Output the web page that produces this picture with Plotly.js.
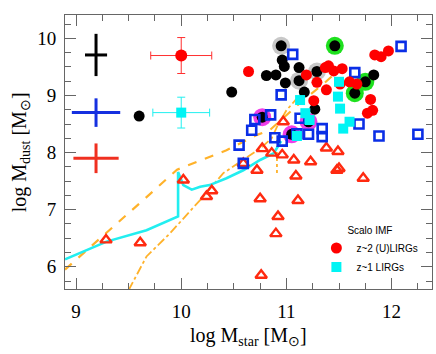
<!DOCTYPE html>
<html>
<head>
<meta charset="utf-8">
<script src="https://cdn.plot.ly/plotly-3.0.1.min.js"></script>
<style>
  html, body { margin: 0; padding: 0; background: #fff; }
  #chart { width: 436px; height: 354px; }
</style>
</head>
<body>
<div id="chart"></div>
<script>
// model tracks (log Mstar, log Mdust)
var cyanLineX = [8.895, 9.29, 9.67, 9.97, 9.97, 10.02, 10.10, 10.18, 10.27, 10.43, 10.59, 10.75, 10.88, 10.95];
var cyanLineY = [6.13, 6.44, 6.64, 6.88, 7.66, 7.43, 7.35, 7.40, 7.43, 7.55, 7.69, 7.87, 7.99, 8.20];
var dashX = [8.895, 9.32, 9.64, 9.96, 10.43, 10.72, 10.84, 11.13, 11.35, 11.50];
var dashY = [5.95, 6.64, 7.17, 7.70, 8.04, 8.31, 8.39, 8.87, 9.20, 9.45];
var dotdashX = [9.50, 9.67, 9.89, 10.21, 10.40, 10.59, 10.75, 10.86, 10.91, 11.00, 11.10];
var dotdashY = [5.59, 6.18, 6.58, 7.23, 7.64, 7.87, 8.07, 8.25, 8.45, 8.74, 8.95];
var dropX = [10.91, 10.91];
var dropY = [8.22, 7.62];

// open red triangles
var triX = [9.285, 9.61, 10.02, 10.24, 10.29, 10.59, 10.72, 10.75, 10.76, 10.77, 10.86, 10.90, 10.92, 10.96, 10.97, 11.07, 11.09, 11.11, 11.23, 11.38, 11.49, 11.48, 11.50, 11.73];
var triY = [6.47, 6.42, 7.52, 7.23, 7.33, 7.81, 7.69, 7.19, 5.85, 8.07, 7.99, 6.58, 6.88, 7.96, 8.54, 7.87, 7.59, 7.16, 7.84, 8.08, 8.02, 7.69, 7.72, 7.55];

// open blue squares
var sqX = [10.55, 10.59, 10.67, 10.70, 10.85, 10.89, 10.96, 10.95, 11.06, 11.10, 11.13, 11.21, 11.34, 11.34, 11.65, 11.69, 11.88, 12.09, 12.25];
var sqY = [8.13, 7.81, 8.39, 8.58, 8.66, 8.26, 8.20, 9.01, 9.72, 8.33, 8.60, 8.32, 8.42, 8.28, 9.40, 8.50, 8.29, 9.86, 8.32];

// halos
var greyX = [10.95, 11.12, 11.29];
var greyY = [9.87, 9.26, 9.42];
var greenX = [11.46, 11.65, 11.75];
var greenY = [9.87, 9.04, 9.24];
var magX = [10.77, 11.21, 11.05];
var magY = [8.62, 8.54, 8.32];

// black dots
var blackX = [9.60, 10.48, 10.77, 10.81, 10.90, 10.95, 10.96, 10.98, 10.99, 11.12, 11.12, 11.17, 11.27, 11.29, 11.46, 11.65, 11.75, 11.83, 11.21, 11.05];
var blackY = [8.64, 9.06, 8.62, 9.35, 9.36, 9.87, 9.62, 9.51, 9.22, 9.49, 9.26, 9.06, 8.76, 9.42, 9.87, 9.04, 9.24, 9.36, 8.54, 8.32];

// z~2 (U)LIRGs
var redX = [10.64, 11.19, 11.29, 11.26, 11.37, 11.40, 11.45, 11.53, 11.38, 11.51, 11.60, 11.67, 11.80, 11.82, 11.77, 11.84, 11.90, 11.97];
var redY = [9.42, 9.36, 9.23, 8.91, 9.49, 9.52, 9.43, 9.47, 9.10, 9.20, 9.24, 9.20, 8.93, 8.74, 8.69, 9.71, 9.68, 9.78];

// z~1 LIRGs
var cyanX = [11.50, 11.49, 11.51, 11.60, 11.54, 11.13, 11.18, 11.22, 11.10];
var cyanY = [9.24, 8.98, 8.77, 8.54, 8.42, 8.92, 8.69, 8.57, 8.29];

// typical error crosses
var crossY = [9.71, 8.70, 7.90];
var crossEx = [0.105, 0.23, 0.215];
var crossEy = [0.37, 0.25, 0.26];
var crossCol = ["#000000", "#1530e0", "#f03020"];
var errRed = { x: 10.0, y: 9.70, ex: 0.29, ey: 0.315 };
var errCyan = { x: 10.0, y: 8.70, ex: 0.27, ey: 0.27 };

var traces = [];
function line(x, y, color, width, dash) {
  traces.push({ x: x, y: y, mode: "lines", showlegend: false, hoverinfo: "skip",
    line: { color: color, width: width, dash: dash } });
}
line(dashX, dashY, "#ffb22a", 2.2, "dash");
line(dotdashX, dotdashY, "#ffb22a", 1.8, "dashdot");
line(dropX, dropY, "#ffb22a", 1.8, "dot");
line(cyanLineX, cyanLineY, "#22eef0", 2.6, "solid");

function pts(x, y, symbol, size, color, extra) {
  var t = { x: x, y: y, mode: "markers", showlegend: false, hoverinfo: "skip",
    marker: { symbol: symbol, size: size, color: color, line: { width: 0 } } };
  if (extra) Object.keys(extra).forEach(function (k) { t[k] = extra[k]; });
  traces.push(t);
  return t;
}
var tri = pts(triX, triY, "triangle-up-open", 10, "#ff2a10");
tri.marker.line = { width: 2.4, color: "#ff2a10" };
pts(greyX, greyY, "circle", 18, "#c8c8c8");
pts(greenX, greenY, "circle", 18, "#1ee01e");
pts(magX, magY, "circle", 18, "#ee3ee8");
pts(blackX, blackY, "circle", 11, "#000000");
var sq = pts(sqX, sqY, "square-open", 9, "#0a2ee6");
sq.marker.line = { width: 2.6, color: "#0a2ee6" };
pts(redX, redY, "circle", 11, "#ff0000", { name: "z~2 (U)LIRGs", showlegend: true });
pts(cyanX, cyanY, "square", 10, "#00f4f4", { name: "z~1 LIRGs", showlegend: true });

for (var i = 0; i < crossY.length; i++) {
  traces.push({ x: [9.19], y: [crossY[i]], mode: "markers", showlegend: false, hoverinfo: "skip",
    marker: { size: 1, color: "rgba(0,0,0,0)" },
    error_x: { type: "constant", value: crossEx[i], color: crossCol[i], thickness: 3, width: 0 },
    error_y: { type: "constant", value: crossEy[i], color: crossCol[i], thickness: 3, width: 0 } });
}
traces.push({ x: [errRed.x], y: [errRed.y], mode: "markers", showlegend: false, hoverinfo: "skip",
  marker: { symbol: "circle", size: 12, color: "#ff0000" },
  error_x: { type: "constant", value: errRed.ex, color: "#ff3030", thickness: 1, width: 4 },
  error_y: { type: "constant", value: errRed.ey, color: "#ff3030", thickness: 1, width: 4 } });
traces.push({ x: [errCyan.x], y: [errCyan.y], mode: "markers", showlegend: false, hoverinfo: "skip",
  marker: { symbol: "square", size: 10, color: "#00f4f4" },
  error_x: { type: "constant", value: errCyan.ex, color: "#20f0f0", thickness: 1, width: 4 },
  error_y: { type: "constant", value: errCyan.ey, color: "#20f0f0", thickness: 1, width: 4 } });

var axisCommon = {
  showgrid: false, zeroline: false, showline: true, linecolor: "#666", linewidth: 1,
  mirror: "allticks", ticks: "inside", ticklen: 11, tickcolor: "#666", tickwidth: 1,
  dtick: 1, tickfont: { family: "Liberation Serif, serif", size: 19, color: "#000" }
};
var xaxis = Object.assign({}, axisCommon, {
  range: [8.895, 12.384], tick0: 9, ticklabelstandoff: 5,
  minor: { dtick: 0.25, tick0: 9, ticks: "inside", ticklen: 6, tickcolor: "#666", showgrid: false }
});
var yaxis = Object.assign({}, axisCommon, {
  range: [5.61, 10.41], tick0: 6, ticklabelstandoff: 4,
  minor: { dtick: 0.25, tick0: 6, ticks: "inside", ticklen: 6, tickcolor: "#666", showgrid: false }
});

var layout = {
  width: 436, height: 354,
  margin: { l: 65, r: 4, t: 15, b: 65 },
  paper_bgcolor: "#fff", plot_bgcolor: "#fff",
  xaxis: xaxis, yaxis: yaxis,
  showlegend: true,
  legend: {
    x: 0.685, y: 0.25, xanchor: "left", yanchor: "top",
    bgcolor: "rgba(0,0,0,0)", borderwidth: 0,
    font: { family: "Liberation Sans, sans-serif", size: 10, color: "#000" },
    title: { text: "Scalo IMF", side: "top center", font: { family: "Liberation Sans, sans-serif", size: 10, color: "#000" } },
    itemwidth: 30, tracegroupgap: 0
  },
  annotations: [
    { xref: "paper", yref: "paper", x: 0.5, y: -0.172, xanchor: "center", yanchor: "middle", showarrow: false,
      text: "log M<sub>star</sub> [M<sub>\u2299</sub>]", font: { family: "Liberation Serif, serif", size: 20, color: "#000" } },
    { xref: "paper", yref: "paper", x: -0.122, y: 0.5, xanchor: "center", yanchor: "middle", showarrow: false, textangle: -90,
      text: "log M<sub>dust</sub> [M<sub>\u2299</sub>]", font: { family: "Liberation Serif, serif", size: 20, color: "#000" } }
  ]
};

Plotly.newPlot("chart", traces, layout, { displayModeBar: false, staticPlot: true });
</script>
</body>
</html>
